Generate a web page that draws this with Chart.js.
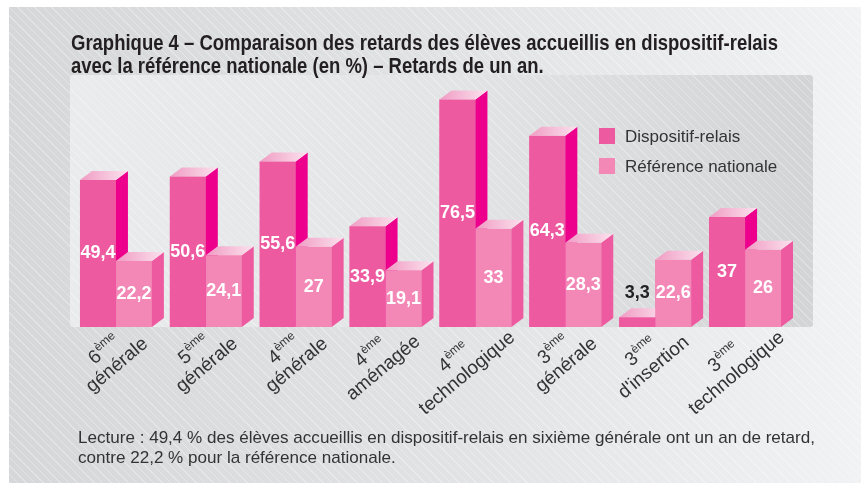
<!DOCTYPE html>
<html lang="fr">
<head>
<meta charset="utf-8">
<title>Graphique 4</title>
<script src="https://cdn.jsdelivr.net/npm/chart.js@4.4.0/dist/chart.umd.min.js"></script>
<style>
  html, body { margin: 0; padding: 0; background: #fff; }
  #wrap { position: relative; width: 861px; height: 483px; overflow: hidden; }
  #panel {
    position: absolute; left: 9px; top: 7px; width: 852px; height: 476px;
    background:
      repeating-linear-gradient(45deg, rgba(255,255,255,0.30) 0 1px, rgba(255,255,255,0) 1px 6px),
      linear-gradient(to right, #d6d7d9, #e2e3e5 55%, #f1f2f4);
  }
  #plotbg {
    position: absolute; left: 70px; top: 75px; width: 743px; height: 252px; border-radius: 3px;
    background:
      repeating-linear-gradient(45deg, rgba(255,255,255,0.28) 0 1px, rgba(255,255,255,0) 1px 6px),
      linear-gradient(to right, #eaebed, #e3e4e6 50%, #d3d4d6);
  }
  canvas { position: absolute; left: 0; top: 0; }
</style>
</head>
<body>
<div id="wrap">
  <div id="panel"></div>
  <div id="plotbg"></div>
  <canvas id="chart" width="861" height="483"></canvas>
</div>
<script>
// classes : niveau (en exposant "ème") + filière
const levels = ["6", "5", "4", "4", "4", "3", "3", "3"];
const streams = ["générale", "générale", "générale", "aménagée", "technologique", "générale", "d'insertion", "technologique"];
// % d'élèves avec un an de retard
const dispositifRelais = [49.4, 50.6, 55.6, 33.9, 76.5, 64.3, 3.3, 37];
const referenceNationale = [22.2, 24.1, 27, 19.1, 33, 28.3, 22.6, 26];
const seriesNames = ["Dispositif-relais", "Référence nationale"];

const titleLines = [
  "Graphique 4 – Comparaison des retards des élèves accueillis en dispositif-relais",
  "avec la référence nationale (en %) – Retards de un an."
];
const noteLines = [
  "Lecture : 49,4 % des élèves accueillis en dispositif-relais en sixième générale ont un an de retard,",
  "contre 22,2 % pour la référence nationale."
];

const frontColors = ["#ee5aa0", "#f387b6"];
const sideColors = ["#ec008c", "#ee5aa0"];
const FONT = "'Liberation Sans', Arial, sans-serif";
//depth of the fake 3d
const DX = 12, DY = 9;

//redraw the bars in dataset order (first series at the back) with side + top faces
const bar3d = {
  id: "bar3d",
  afterDatasetsDraw(chart) {
    const ctx = chart.ctx;
    chart.data.datasets.forEach((ds, i) => {
      chart.getDatasetMeta(i).data.forEach((bar) => {
        bar.draw(ctx);
        const { x, y, base, width } = bar.getProps(["x", "y", "base", "width"], true);
        const l = x - width / 2, r = x + width / 2;
        ctx.save();
        ctx.fillStyle = sideColors[i];
        ctx.beginPath();
        ctx.moveTo(r, y);
        ctx.lineTo(r + DX, y - DY);
        ctx.lineTo(r + DX, base - DY);
        ctx.lineTo(r, base);
        ctx.closePath();
        ctx.fill();
        const g = ctx.createLinearGradient(l, 0, r + DX, 0);
        g.addColorStop(0, "#f09cc3");
        g.addColorStop(1, "#fbe2ee");
        ctx.fillStyle = g;
        ctx.beginPath();
        ctx.moveTo(l, y);
        ctx.lineTo(l + DX, y - DY);
        ctx.lineTo(r + DX, y - DY);
        ctx.lineTo(r, y);
        ctx.closePath();
        ctx.fill();
        ctx.restore();
      });
    });
  }
};

//values inside the bars (or above when too small)
const valueLabels = {
  id: "valueLabels",
  afterDatasetsDraw(chart) {
    const ctx = chart.ctx;
    ctx.save();
    ctx.font = "bold 18px " + FONT;
    ctx.textAlign = "center";
    ctx.textBaseline = "middle";
    chart.data.datasets.forEach((ds, i) => {
      chart.getDatasetMeta(i).data.forEach((bar, j) => {
        const text = ds.data[j].toLocaleString("fr-FR");
        if (bar.base - bar.y > 30) {
          ctx.fillStyle = "#ffffff";
          ctx.fillText(text, bar.x, (bar.y + bar.base) / 2);
        } else {
          ctx.fillStyle = "#222222";
          ctx.fillText(text, bar.x, bar.y - DY - 15);
        }
      });
    });
    ctx.restore();
  }
};

//category labels, rotated, with superscript
const categoryLabels = {
  id: "categoryLabels",
  afterDraw(chart) {
    const ctx = chart.ctx;
    const xs = chart.scales.x;
    levels.forEach((lv, i) => {
      const cx = xs.getPixelForValue(i);
      ctx.save();
      ctx.translate(cx + 17, 352);
      ctx.rotate(-40 * Math.PI / 180);
      ctx.fillStyle = "#333333";
      ctx.textAlign = "left";
      ctx.textBaseline = "middle";
      ctx.font = "19px " + FONT;
      const w2 = ctx.measureText(streams[i]).width;
      const start = -0.78 * w2;
      ctx.fillText(streams[i], start, 0);
      const wN = ctx.measureText(lv).width;
      ctx.font = "12px " + FONT;
      const wS = ctx.measureText("ème").width;
      const x1 = start + w2 / 2 - (wN + wS) / 2;
      ctx.font = "19px " + FONT;
      ctx.fillText(lv, x1, -20);
      ctx.font = "12px " + FONT;
      ctx.fillText("ème", x1 + wN + 0.5, -26);
      ctx.restore();
    });
  }
};

//legend inside the plot area
const insideLegend = {
  id: "insideLegend",
  afterDraw(chart) {
    const ctx = chart.ctx;
    ctx.save();
    ctx.font = "17px " + FONT;
    ctx.textAlign = "left";
    ctx.textBaseline = "middle";
    chart.data.datasets.forEach((ds, i) => {
      const y = 128 + i * 30;
      ctx.fillStyle = ds.backgroundColor;
      ctx.fillRect(599, y, 16, 16);
      ctx.fillStyle = "#333333";
      ctx.fillText(ds.label, 625, y + 9);
    });
    ctx.restore();
  }
};

//title + note, squeezed horizontally like a condensed face
const texts = {
  id: "texts",
  afterDraw(chart) {
    const ctx = chart.ctx;
    const drawBlock = (lines, font, color, x, y0, lead, width0) => {
      ctx.save();
      ctx.font = font;
      ctx.fillStyle = color;
      ctx.textAlign = "left";
      ctx.textBaseline = "alphabetic";
      const sx = width0 / ctx.measureText(lines[0]).width;
      ctx.translate(x, 0);
      ctx.scale(sx, 1);
      lines.forEach((t, k) => ctx.fillText(t, 0, y0 + k * lead));
      ctx.restore();
    };
    drawBlock(titleLines, "bold 22px " + FONT, "#231f20", 71, 50, 23, 707);
    drawBlock(noteLines, "17px " + FONT, "#333333", 78, 443, 20, 737);
  }
};

new Chart(document.getElementById("chart"), {
  type: "bar",
  data: {
    labels: levels.map((lv, i) => lv + "ème " + streams[i]),
    datasets: [
      {
        label: seriesNames[0],
        data: dispositifRelais,
        backgroundColor: frontColors[0],
        categoryPercentage: 0.8,
        barPercentage: 1,
      },
      {
        label: seriesNames[1],
        data: referenceNationale,
        backgroundColor: frontColors[1],
        categoryPercentage: 0.8,
        barPercentage: 1,
      },
    ],
  },
  options: {
    responsive: false,
    animation: false,
    devicePixelRatio: 1,
    layout: { padding: { left: 71, right: 71, top: 89, bottom: 156 } },
    scales: {
      x: { display: false },
      y: { display: false, min: 0, max: 80 },
    },
    plugins: {
      legend: { display: false },
      tooltip: { enabled: false },
    },
  },
  plugins: [bar3d, valueLabels, categoryLabels, insideLegend, texts],
});
</script>
</body>
</html>
